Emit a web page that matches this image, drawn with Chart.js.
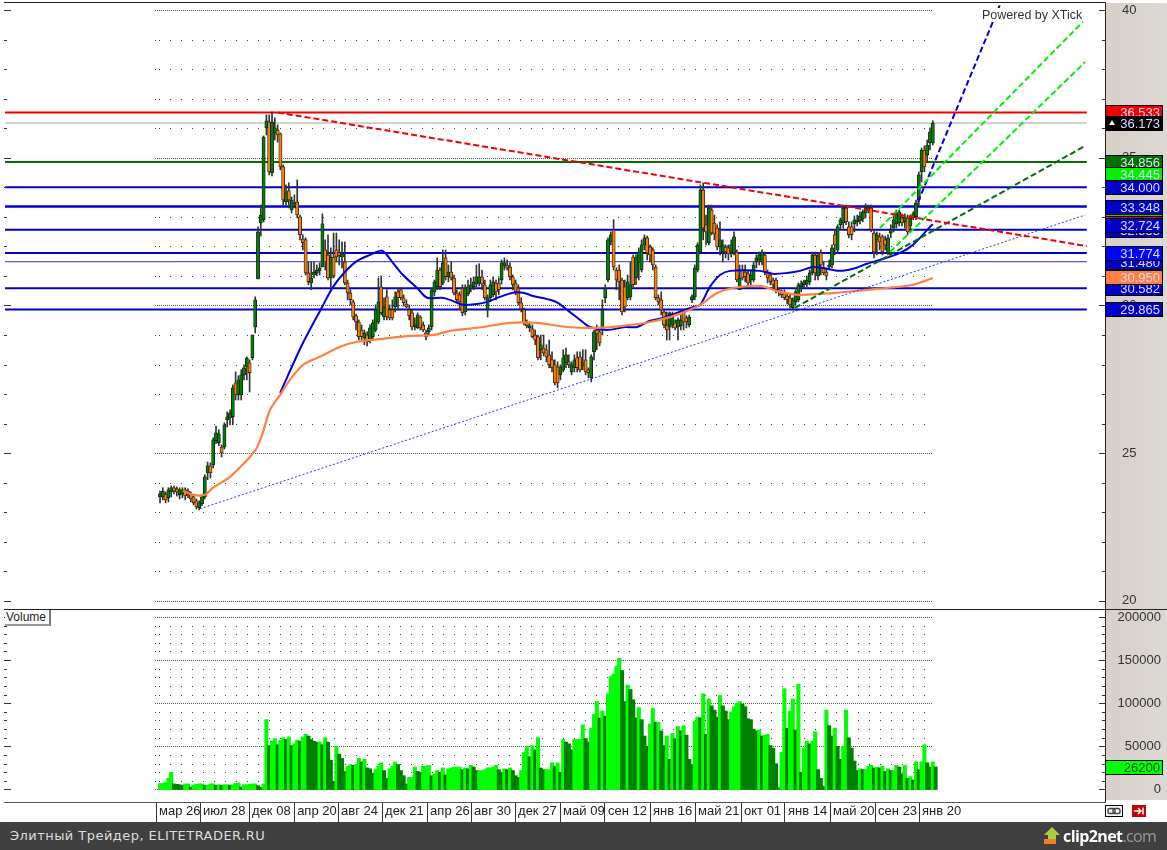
<!DOCTYPE html>
<html>
<head>
<meta charset="utf-8">
<title>XTick</title>
<script src="https://cdn.jsdelivr.net/npm/chart.js@4/dist/chart.umd.min.js"></script>
<style>
  html, body { margin: 0; padding: 0; background: #fff; overflow: hidden; }
  body { width: 1167px; height: 850px; position: relative; font-family: "Liberation Sans", Arial, sans-serif; }
  canvas { position: absolute; left: 0; }
  #price { top: 0; }
  #volume { top: 609px; }
  #strip { position: absolute; left: 1106px; top: 3px; width: 61px; height: 797px; background: linear-gradient(90deg, #d8d0c8, #dcd8d4); }
  .rule { position: absolute; background: #222; }
  #powered { position: absolute; left: 982px; top: 8px; font-size: 12.5px; color: #333; background: #fff; }
  #volbtn { position: absolute; left: 5px; top: 610px; width: 44px; height: 14px; font-size: 12px; line-height: 14px; color: #222; background: #fff; border-right: 2px solid #777; border-bottom: 2px solid #999; text-indent: 1px; }
  #footer { position: absolute; left: 0; top: 822px; width: 1167px; height: 28px; background: #404040; }
  #footer .site { position: absolute; left: 10px; top: 6px; font: 13px "DejaVu Sans", sans-serif; letter-spacing: 0.45px; color: #ddd; }
  #footer .brand { position: absolute; left: 1063px; top: 3px; font: bold 16px "Open Sans", sans-serif; color: #fff; letter-spacing: -0.6px; }
  #footer .brand span { color: #999; font-weight: normal; }
  #footer svg { position: absolute; left: 1042px; top: 4px; }
  .icon { position: absolute; top: 805px; }
</style>
</head>
<body>
<div id="strip"></div>
<canvas id="price" width="1167" height="609"></canvas>
<canvas id="volume" width="1167" height="213"></canvas>
<div class="rule" style="left:4px;top:2px;width:1101px;height:1px"></div>
<div class="rule" style="left:4px;top:609px;width:1163px;height:1px"></div>
<div class="rule" style="left:4px;top:802px;width:1102px;height:1px;background:#555"></div>
<div id="powered">Powered by XTick</div>
<div id="volbtn">Volume</div>
<svg class="icon" style="left:1105px" width="18" height="12" viewBox="0 0 18 12"><rect x="0.5" y="0.5" width="17" height="11" fill="#f4f4f4" stroke="#000"/><rect x="3" y="3.5" width="7" height="5" rx="2" fill="none" stroke="#444" stroke-width="1.4"/><rect x="8" y="3.5" width="7" height="5" rx="2" fill="none" stroke="#444" stroke-width="1.4"/></svg>
<svg class="icon" style="left:1132px" width="14" height="12" viewBox="0 0 14 12"><rect width="14" height="12" fill="#c40000"/><path d="M2 6 H8 M6 3 L9 6 L6 9 M11 2.5 V9.5" stroke="#fff" stroke-width="1.5" fill="none"/></svg>
<div id="footer">
  <div class="site">Элитный Трейдер, ELITETRADER.RU</div>
  <svg width="20" height="20" viewBox="0 0 20 20"><path d="M10 1 L18 9 H14 V14 H6 V9 H2 Z" fill="#a6cf3a"/><rect x="2" y="13" width="12" height="5" fill="#f08020"/></svg>
  <div class="brand">clip2net<span>.com</span></div>
</div>
<script>
const opens = [23.52,23.52,23.62,23.49,23.69,23.83,23.79,23.59,23.62,23.76,23.72,23.62,23.52,23.39,23.15,23.29,23.52,24.33,24.57,24.60,25.42,25.35,25.21,25.21,26.13,26.19,26.23,27.38,26.97,26.97,27.65,27.92,28.06,28.23,29.27,30.90,32.79,32.90,36.01,36.21,34.49,35.84,35.94,35.81,34.69,33.50,33.88,33.23,33.50,33.50,33.00,32.25,32.22,31.10,30.76,31.03,31.10,31.17,31.30,31.88,31.71,30.93,31.64,31.88,31.78,31.64,31.47,30.76,30.42,30.12,29.65,29.44,29.17,28.90,29.00,28.83,28.94,29.17,29.44,30.63,29.61,30.29,29.85,29.85,29.95,30.46,30.53,30.26,30.05,29.85,29.75,29.27,29.24,29.61,29.34,29.07,29.11,29.27,30.46,30.63,31.20,30.76,31.61,30.97,31.13,30.93,30.42,30.36,30.59,29.78,30.39,30.56,30.63,30.73,30.76,30.97,30.70,29.85,30.26,30.36,30.76,30.76,30.86,31.34,31.37,31.30,30.97,30.76,30.59,30.09,29.85,29.41,29.24,29.21,29.00,28.94,28.50,28.56,28.50,28.33,28.16,27.99,27.92,27.65,27.82,28.06,28.09,27.75,27.89,28.23,28.26,27.95,28.16,27.82,27.55,28.43,29.17,29.11,29.24,30.26,30.86,32.15,32.56,31.20,31.20,30.86,30.63,30.26,30.29,31.64,30.93,31.44,31.20,32.05,32.29,31.98,31.88,31.30,30.26,30.19,29.78,29.34,29.27,29.34,29.41,29.27,29.31,29.78,29.58,29.34,30.19,30.29,31.20,31.81,33.91,32.73,32.12,33.23,32.79,32.62,31.98,31.81,31.98,31.95,31.81,31.78,31.81,30.53,31.20,31.13,31.07,30.86,30.86,31.47,31.54,31.47,31.71,31.13,31.03,30.86,30.86,30.53,30.46,30.42,30.32,30.26,29.92,30.12,30.19,30.63,30.70,30.73,30.80,31.10,31.71,31.00,31.78,31.30,31.13,31.30,31.37,32.39,31.88,32.73,32.79,33.30,32.66,32.66,32.76,32.83,32.86,32.93,33.13,33.23,33.30,32.45,32.22,32.32,32.32,32.22,31.78,32.45,32.62,32.76,32.79,32.96,32.83,32.96,32.69,32.96,33.00,33.57,34.52,35.26,35.09,35.50,35.50];
const highs = [23.72,23.83,23.69,23.83,23.89,23.89,23.86,23.83,23.83,23.83,23.79,23.69,23.59,23.45,23.39,23.59,24.27,24.70,24.67,25.52,25.92,25.79,25.28,26.03,26.40,26.47,27.31,27.75,27.62,27.82,27.99,28.26,28.16,29.00,30.29,32.66,33.40,35.74,36.45,36.45,36.55,36.35,36.11,35.84,34.76,34.08,34.15,33.67,33.74,34.25,33.06,32.39,32.29,31.47,31.47,31.47,31.37,31.44,33.10,32.22,32.39,31.95,32.45,32.45,32.22,32.15,32.15,30.86,30.53,30.19,29.71,29.51,29.34,29.17,29.11,29.34,29.51,30.02,30.93,31.00,30.26,30.53,30.02,30.19,30.46,30.59,30.59,30.36,30.19,30.02,29.85,29.58,29.75,29.65,29.44,29.17,29.34,30.59,30.86,31.61,31.27,31.88,31.88,31.37,31.47,31.03,30.53,30.46,30.70,30.70,30.86,30.93,30.97,31.37,31.41,31.20,30.86,30.36,30.86,30.97,30.86,30.93,31.54,31.61,31.54,31.44,31.03,30.86,30.70,30.26,29.92,29.51,29.44,29.34,29.17,29.00,29.00,29.00,28.67,28.83,28.43,28.16,28.09,27.99,28.50,28.56,28.33,28.09,28.33,28.43,28.43,28.50,28.50,27.89,28.33,29.17,29.34,29.17,30.19,30.70,32.29,32.49,32.90,31.27,31.37,30.93,30.86,31.03,31.47,31.71,31.71,31.95,32.22,32.39,32.35,32.05,31.95,31.37,30.36,30.46,29.85,29.78,29.78,29.78,29.51,29.58,29.68,29.85,29.65,29.68,30.36,31.37,32.12,34.08,34.15,33.06,33.40,33.40,33.06,32.73,32.83,32.22,32.05,32.05,32.22,32.49,31.88,31.37,31.37,31.37,31.20,31.20,31.47,31.71,31.81,31.88,31.81,31.20,31.13,30.93,30.93,30.59,30.53,30.53,30.42,30.36,30.26,30.53,30.76,30.83,30.86,31.00,31.20,31.81,31.81,31.78,31.88,31.47,31.27,31.54,32.05,32.56,32.73,32.96,33.40,33.40,32.83,32.83,33.03,33.06,33.17,33.23,33.44,33.40,33.40,32.52,32.49,32.45,32.39,32.35,32.39,32.73,33.06,33.23,33.23,33.10,33.10,33.06,33.06,33.17,33.57,34.52,35.33,35.40,35.60,36.01,36.25];
const lows = [23.32,23.42,23.32,23.35,23.52,23.62,23.55,23.45,23.49,23.42,23.49,23.35,23.25,23.11,23.08,23.22,23.45,24.10,24.16,24.50,25.32,25.25,24.87,25.14,25.89,25.96,25.96,26.80,26.80,26.80,27.48,27.48,27.07,28.16,29.07,30.90,32.35,32.83,35.77,34.42,34.38,35.60,35.53,34.59,33.40,33.40,33.30,33.13,33.30,32.96,32.22,31.88,31.03,30.70,30.53,30.93,31.00,31.03,31.30,31.20,30.86,30.63,30.93,31.47,31.37,31.27,30.70,30.19,30.02,29.51,29.17,28.83,28.83,28.67,28.63,28.73,28.83,29.11,29.38,29.68,29.51,29.51,29.51,29.51,29.78,29.85,30.19,29.98,29.92,29.51,29.17,29.17,29.21,29.17,29.11,28.83,29.00,29.17,30.32,30.53,30.53,30.70,30.86,30.80,30.86,30.36,30.12,29.85,29.65,29.68,30.32,30.46,30.53,30.63,30.66,30.53,30.19,29.61,30.12,30.29,30.19,30.36,30.73,31.20,31.20,30.86,30.53,30.36,30.02,29.78,29.34,29.24,29.11,28.90,28.67,28.16,28.16,28.29,28.09,27.89,27.75,27.31,27.21,27.48,27.75,27.89,27.89,27.65,27.75,27.75,27.75,27.82,27.65,27.55,27.41,28.16,28.50,28.63,29.00,30.09,30.80,32.05,31.20,30.53,30.19,29.68,29.78,30.19,30.19,30.63,30.70,30.86,31.13,31.88,31.54,31.47,31.20,30.19,30.02,29.68,29.24,28.83,28.83,29.24,29.17,28.83,29.17,29.17,29.24,29.27,30.09,30.19,31.13,31.81,32.22,32.05,32.05,32.39,32.22,31.88,31.71,31.47,31.61,31.54,31.64,31.71,30.80,30.53,30.86,30.80,30.63,30.70,30.80,31.27,31.37,31.37,31.03,30.76,30.70,30.59,30.42,30.32,30.26,30.19,30.05,29.92,29.85,30.02,30.12,30.46,30.59,30.63,30.70,31.03,30.86,30.86,31.03,31.03,30.86,31.20,31.27,31.71,31.78,32.56,32.62,32.73,32.29,32.22,32.49,32.69,32.76,32.83,32.96,33.13,32.49,31.61,31.71,31.88,31.71,31.88,31.71,32.29,32.49,32.62,32.69,32.69,32.62,32.39,32.49,32.90,32.90,33.40,34.18,34.52,34.86,35.26,35.43];
const closes = [23.62,23.72,23.42,23.76,23.83,23.72,23.69,23.76,23.76,23.55,23.59,23.45,23.32,23.18,23.32,23.52,24.20,24.57,24.33,25.45,25.69,25.65,25.01,25.96,26.23,26.36,27.21,26.97,27.48,27.65,27.89,28.22,27.72,29.00,30.19,32.49,33.06,35.70,36.25,34.52,36.21,36.01,35.77,34.69,33.57,33.81,33.57,33.57,33.44,33.06,32.39,32.12,31.10,30.80,30.93,31.13,31.20,31.27,32.76,31.47,30.93,31.64,31.00,31.64,31.68,31.74,30.76,30.42,30.19,29.61,29.44,28.94,28.94,29.07,28.77,29.24,29.41,29.85,30.12,29.75,29.95,29.61,29.58,29.58,30.29,30.26,30.26,30.09,29.95,29.65,29.27,29.34,29.68,29.24,29.17,28.94,29.24,30.53,30.80,31.20,30.63,31.44,30.97,31.13,30.93,30.42,30.19,30.12,29.75,30.59,30.63,30.70,30.80,30.97,30.97,30.73,30.26,30.26,30.70,30.80,30.46,30.53,31.44,31.44,31.27,30.97,30.70,30.46,30.09,29.88,29.41,29.31,29.31,28.94,28.83,28.23,28.67,28.39,28.26,27.99,27.89,27.38,27.38,27.92,28.23,28.33,27.99,27.99,28.16,27.89,27.82,28.06,27.75,27.72,28.26,29.11,29.04,28.73,29.85,30.59,32.22,32.39,31.30,30.86,30.80,29.78,29.95,30.80,30.70,30.70,31.61,31.81,32.05,32.29,31.78,31.71,31.37,30.26,30.12,29.85,29.34,29.17,29.75,29.61,29.24,29.51,29.51,29.44,29.44,29.61,30.29,31.27,32.05,33.91,32.62,32.49,33.30,32.45,32.42,31.98,32.22,32.05,31.81,31.74,32.05,32.32,30.86,30.93,30.93,30.97,30.76,31.03,31.37,31.61,31.71,31.81,31.13,30.93,30.80,30.70,30.53,30.46,30.36,30.26,30.19,30.02,30.19,30.46,30.70,30.73,30.80,30.86,31.10,31.71,31.10,31.68,31.37,31.10,31.00,31.37,31.95,32.05,32.66,32.90,33.30,32.83,32.39,32.39,32.90,32.90,33.03,33.17,33.30,33.33,32.56,31.81,32.39,32.15,31.81,32.05,32.29,32.56,32.90,33.10,33.17,32.79,33.00,32.49,32.96,33.10,33.47,34.42,35.26,34.69,35.43,35.87,36.17];
const volumes = [7000,7000,8000,13000,20000,6500,6000,5500,5000,6500,6500,3000,5000,6000,6500,6500,5000,5000,6500,6500,5000,5500,5000,5500,5500,5000,5500,7000,7500,3000,5500,5500,6000,6500,6500,4500,2500,6500,81000,51000,56000,59000,52000,57000,60000,58000,61000,51000,53000,57000,56000,61000,64000,62000,58000,56000,55000,55000,52000,60000,55000,34000,9500,50000,41000,36000,21000,27000,29000,28000,29000,36000,32000,35000,25000,24000,19000,23000,27000,31000,22000,13000,24000,27000,32000,29000,22000,16000,6500,14000,14000,26000,21000,20000,27000,27000,28000,16000,18000,22000,20000,25000,17000,24000,25000,26000,26000,26000,23000,25000,24000,28000,26000,22000,22000,22000,23000,25000,25000,26000,28000,23000,20000,24000,23000,25000,22000,16000,14000,22000,43000,50000,38000,51000,46000,60000,25000,23000,23000,23000,31000,27000,31000,20000,58000,55000,53000,46000,58000,58000,58000,75000,59000,55000,71000,87000,102000,83000,91000,85000,111000,131000,134000,143000,152000,138000,102000,121000,116000,104000,83000,95000,81000,62000,50000,76000,94000,78000,78000,68000,51000,62000,35000,65000,59000,73000,68000,74000,63000,35000,29000,79000,84000,83000,111000,64000,105000,97000,92000,84000,109000,97000,91000,81000,90000,96000,100000,102000,99000,96000,82000,81000,70000,68000,69000,62000,63000,64000,51000,48000,30000,2000,43000,117000,71000,91000,105000,69000,122000,20000,48000,56000,53000,56000,67000,23000,13000,4000,92000,74000,62000,71000,50000,35000,50000,92000,60000,48000,33000,22000,24000,23000,23000,27000,28000,25000,26000,25000,27000,21000,24000,22000,22000,28000,26000,18000,28000,13000,15000,11000,32000,23000,32000,52000,31000,26000,32000,26200];

const tickIndex = [-1.4,14.3,31.8,47.9,63.6,79.3,95.4,111.1,126.8,142.9,158.9,175,191.1,207.5,223.2,239.3,255.4,271.1];
const tickLabels = ["мар 26","июл 28","дек 08","апр 20","авг 24","дек 21","апр 26","авг 30","дек 27","май 09","сен 12","янв 16","май 21","окт 01","янв 14","май 20","сен 23","янв 20"];

const priceTicks = [20,21,22,23,24,25,26,27,28,29,30,31,32,33,34,35,36,37,38,39,40];
const volumeTicks = [0,10000,20000,30000,40000,50000,60000,70000,80000,90000,100000,110000,120000,130000,140000,150000,160000,170000,180000,190000,200000];

// moving averages at irregular bar positions
const blueMaIdx = [42.9,50.7,57.9,61.8,66.1,70.4,75,79.3,83.2,86.8,91.8,95.4,100.7,103.6,108.2,113.2,116.8,121.4,126.1,129.6,133.2,139.3,142.1,145.4,150,153.6,159.6,166.1,170.4,175,179.6,184.6,190.4,192.9,196.4,200,203.6,214.3,218.9,223.9,228.6,233.2,238.2,242.9,247.5,252.5,257.1,264.3,268.9,275,276];
const blueMaVal = [27.04,28.66,29.95,30.63,31.14,31.51,31.71,31.85,31.44,31.03,30.59,30.26,30.26,30.19,30.02,30.05,30.12,30.29,30.43,30.43,30.32,30.19,30.09,29.85,29.51,29.27,29.17,29.27,29.27,29.48,29.58,29.75,29.95,30.02,30.63,31.03,31.17,31.17,31.07,31.10,31.17,31.30,31.24,31.17,31.24,31.41,31.54,31.78,32.05,32.66,32.75];
const orangeMaIdx = [8.2,11.8,16.1,18.9,25,32.1,34.6,36.8,39.3,42.9,46.4,51.1,57.1,64.3,70.4,79.6,89.3,97.5,103.6,115.4,125,134.6,145.4,156.1,165.4,175,184.6,192.9,198.9,204.6,214.3,221.4,228.6,240.4,252.5,259.6,268.9,276];
const orangeMaVal = [23.72,23.59,23.59,23.83,24.20,24.87,25.18,25.72,26.47,26.97,27.48,27.99,28.26,28.60,28.77,28.87,28.97,29.00,29.14,29.27,29.41,29.41,29.27,29.24,29.31,29.44,29.68,30.02,30.42,30.59,30.66,30.46,30.36,30.42,30.53,30.59,30.70,30.93];

// horizontal levels
const levelValues = [36.533,36.173,34.856,34.000,33.348,32.558,31.774,31.480,30.582,29.865];
const levelColors = ["#f00000","#a0a0a0","#007000","#0000c8","#0000d8","#0000c8","#0000c8","#3030c8","#0000c8","#0000c8"];
const levelWidths = [2,1,2,2,2.5,2,2,1,2,2];

// trend lines: bar index and price of both ends
const redTrendX = [42.1,331], redTrendY = [36.53,32.01];
const supportX = [14.3,330.4], supportY = [23.12,33.06];
const darkFanX = [226.8,330.4], darkFanY = [29.92,35.40];
const lightFanAX = [257.1,329.6], lightFanAY = [32.62,39.60];
const lightFanBX = [260.7,330.4], lightFanBY = [31.81,38.24];
const blueFanX = [270.7,300.4], blueFanY = [33.50,40.27];

// price boxes on the right axis, drawn in this order
const badgeValues = [36.533,36.173,34.856,34.445,34.000,33.163,33.27,33.348,32.558,32.724,31.480,31.774,30.582,30.950,29.865];
const badgeTexts = ["36.533","36.173","34.856","34.445","34.000","","","33.348","32.558","32.724","31.480","31.774","30.582","30.950","29.865"];
const badgeFills = ["#f00000","#000000","#007000","#00f000","#0000c8","#f00000","#00e000","#0000c8","#0000c8","#0000c8","#0000c8","#0000ff","#0000c8","#ff8040","#0000c8"];

const xMin = -55.36, xMax = 337.5, lineEnd = 331;
const pairs = (xs, ys) => xs.map((x, i) => ({ x, y: ys[i] }));

const dotGrid = {
  id: "dotGrid",
  beforeDatasetsDraw(chart, args, opts) {
    const { ctx, scales: { x, y } } = chart;
    ctx.save();
    y.ticks.forEach((t) => {
      const py = Math.round(y.getPixelForValue(t.value));
      if (t.value % opts.major === 0) {
        ctx.fillStyle = "#555";
        for (let px = 155; px < 933; px += 2) ctx.fillRect(px, py, 1, 1);
      } else {
        ctx.fillStyle = "#444";
        ctx.fillRect(155, py, 1, 1);
        for (let i = -0.2; i < 276; i += 3.9) ctx.fillRect(Math.round(x.getPixelForValue(i)), py, 1, 1);
      }
    });
    ctx.restore();
  },
  afterDraw(chart, args, opts) {
    // short marks on both sides of the panel
    const { ctx, chartArea, scales: { y } } = chart;
    ctx.save();
    ctx.fillStyle = "#333";
    y.ticks.forEach((t) => {
      const py = Math.round(y.getPixelForValue(t.value));
      const major = t.value % opts.major === 0;
      ctx.fillRect(4, py, major ? 7 : 3, 1);
      const len = major ? 6 : 3;
      ctx.fillRect(chartArea.right - len, py, len, 1);
    });
    ctx.restore();
  },
};

const badges = {
  id: "badges",
  afterDraw(chart, args, opts) {
    const { ctx, scales: { y } } = chart;
    ctx.save();
    ctx.font = '13px "Liberation Sans", Arial, sans-serif';
    ctx.textAlign = "right";
    ctx.textBaseline = "middle";
    opts.values.forEach((v, i) => {
      const py = Math.round(y.getPixelForValue(v));
      ctx.fillStyle = opts.fills[i];
      ctx.fillRect(1106, py - 6, 56, 13);
      ctx.strokeStyle = "#000";
      ctx.strokeRect(1105.5, py - 6.5, 57, 14);
      ctx.fillStyle = opts.textColor;
      ctx.fillText(opts.texts[i], 1160, py + 1);
    });
    if (opts.arrowAt != null) {
      const py = y.getPixelForValue(opts.arrowAt);
      ctx.fillStyle = "#fff";
      ctx.beginPath();
      ctx.moveTo(1112, py - 3);
      ctx.lineTo(1115, py + 2);
      ctx.lineTo(1109, py + 2);
      ctx.fill();
    }
    ctx.restore();
  },
};

const lineSet = (data, color, width, dash, order, tension = 0) => ({
  type: "line", data, borderColor: color, borderWidth: width, borderDash: dash,
  pointRadius: 0, tension, fill: false, order,
});

const levelSets = levelValues.map((v, i) =>
  lineSet([{ x: xMin, y: v }, { x: lineEnd, y: v }], levelColors[i], levelWidths[i], [], 5));

const noMargins = (s) => { s.paddingTop = 0; s.paddingBottom = 0; s.paddingLeft = 0; s.paddingRight = 0; };

const xScale = (extra) => Object.assign({
  type: "linear", min: xMin, max: xMax, offset: false, grid: { display: false, offset: false },
}, extra);

new Chart(document.getElementById("price"), {
  type: "bar",
  data: {
    datasets: [
      ...levelSets,
      {
        data: closes.map((_, i) => ({ x: i, y: [lows[i], highs[i]] })),
        backgroundColor: "#333", barThickness: 1, grouped: false, order: 3,
      },
      {
        data: closes.map((c, i) => ({ x: i, y: [opens[i], c] })),
        backgroundColor: closes.map((c, i) => (c >= opens[i] ? "#008000" : "#ff8000")),
        borderColor: "#111", borderWidth: 0.8, borderSkipped: false,
        barThickness: 3.2, grouped: false, order: 2,
      },
      lineSet(pairs(orangeMaIdx, orangeMaVal), "#ff8040", 2.2, [], 1, 0.3),
      lineSet(pairs(blueMaIdx, blueMaVal), "#0000e0", 2, [], 1, 0.3),
      lineSet(pairs(redTrendX, redTrendY), "#f00000", 2, [6, 3], 0),
      lineSet(pairs(supportX, supportY), "#3030f0", 1, [2, 2], 0),
      lineSet(pairs(darkFanX, darkFanY), "#007000", 2, [6, 3], 0),
      lineSet(pairs(lightFanAX, lightFanAY), "#00f000", 2, [6, 3], 0),
      lineSet(pairs(lightFanBX, lightFanBY), "#00f000", 2, [6, 3], 0),
      lineSet(pairs(blueFanX, blueFanY), "#0000e0", 2, [6, 3], 0),
    ],
  },
  options: {
    responsive: false,
    animation: false,
    devicePixelRatio: 1,
    layout: { padding: { left: 5, right: 0, top: 2, bottom: 1 } },
    plugins: {
      legend: { display: false },
      tooltip: { enabled: false },
      dotGrid: { major: 5 },
      badges: { values: badgeValues, texts: badgeTexts, fills: badgeFills, textColor: "#dcdcff", arrowAt: 36.173 },
    },
    scales: {
      x: xScale({ display: false }),
      y: {
        position: "right",
        min: 19.76,
        max: 40.27,
        afterFit: (s) => { s.width = 62; noMargins(s); },
        afterBuildTicks: (s) => { s.ticks = priceTicks.map((value) => ({ value })); },
        grid: { display: false, drawTicks: false },
        border: { display: true, color: "#222" },
        ticks: {
          autoSkip: false,
          padding: 17,
          color: "#333",
          font: { family: '"Liberation Sans", Arial, sans-serif', size: 13 },
          callback: (v) => (v % 5 === 0 ? String(v) : ""),
        },
      },
    },
  },
  plugins: [dotGrid, badges],
});

new Chart(document.getElementById("volume"), {
  type: "bar",
  data: {
    datasets: [{
      data: volumes.map((v, i) => ({ x: i, y: v })),
      backgroundColor: volumes.map((v, i) => (i > 0 && v < volumes[i - 1] ? "#008000" : "#00ff00")),
      barThickness: 3.4,
      grouped: false,
    }],
  },
  options: {
    responsive: false,
    animation: false,
    devicePixelRatio: 1,
    layout: { padding: { left: 5, right: 6, top: 1, bottom: 0 } },
    plugins: {
      legend: { display: false },
      tooltip: { enabled: false },
      dotGrid: { major: 50000 },
      badges: { values: [26200], texts: ["26200"], fills: ["#00ff00"], textColor: "#005000" },
    },
    scales: {
      x: xScale({
        afterFit: (s) => { s.height = 20; noMargins(s); },
        afterBuildTicks: (s) => { s.ticks = tickIndex.map((value) => ({ value })); },
        grid: { display: true, drawOnChartArea: false, drawTicks: true, tickLength: 20, color: "#333", offset: false },
        border: { display: false },
        ticks: {
          autoSkip: false,
          maxRotation: 0,
          align: "start",
          labelOffset: 3,
          padding: -18,
          color: "#222",
          font: { family: '"Liberation Sans", Arial, sans-serif', size: 13 },
          callback: (v, i) => tickLabels[i],
        },
      }),
      y: {
        position: "right",
        min: -14493,
        max: 208116,
        afterFit: (s) => { s.width = 56; noMargins(s); },
        afterBuildTicks: (s) => { s.ticks = volumeTicks.map((value) => ({ value })); },
        grid: { display: false, drawTicks: false },
        border: { display: true, color: "#222" },
        ticks: {
          autoSkip: false,
          crossAlign: "far",
          padding: 6,
          color: "#333",
          font: { family: '"Liberation Sans", Arial, sans-serif', size: 13 },
          callback: (v) => (v % 50000 === 0 ? String(v) : ""),
        },
      },
    },
  },
  plugins: [dotGrid, badges],
});
</script>
</body>
</html>
